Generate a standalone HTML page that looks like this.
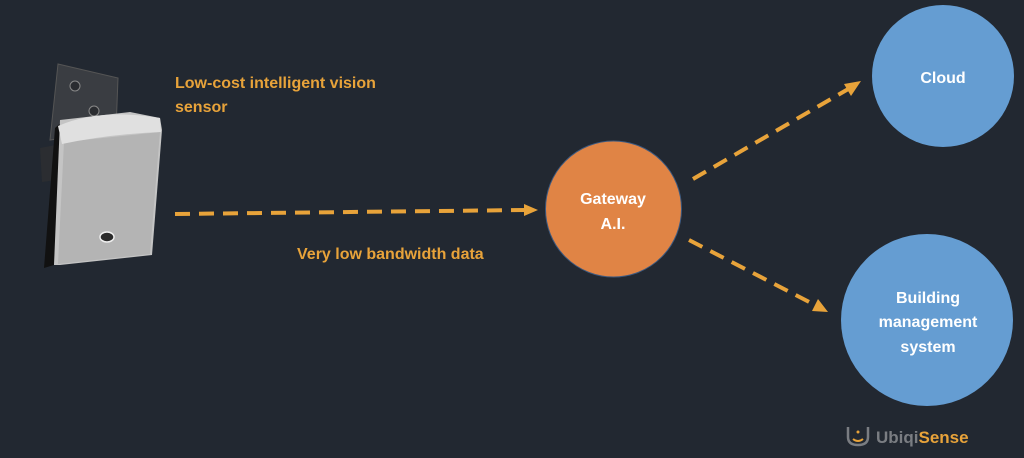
<!DOCTYPE html>
<html><head><style>
html,body{margin:0;padding:0;background:#222831;}
svg{display:block}
text{font-family:"Liberation Sans",sans-serif;font-weight:bold;}
</style></head><body>
<svg width="1024" height="458" viewBox="0 0 1024 458">
<rect width="1024" height="458" fill="#222831"/>
<!-- sensor -->
<polygon points="58,64 118,78 116,130 50,140" fill="#3a3d42" stroke="#555" stroke-width="1"/>
<circle cx="75" cy="86" r="5" fill="#2a2c30" stroke="#888"/>
<circle cx="94" cy="111" r="5" fill="#2a2c30" stroke="#888"/>
<polygon points="40,148 56,145 56,180 42,182" fill="#2b2d31"/>
<polygon points="55,128 64,120 54,265 44,268" fill="#111"/>
<polygon points="60,120 130,112 160,118 162,130 152,255 60,265 54,265" fill="#c4c4c4"/>
<polygon points="64,142 160,132 150,254 58,264" fill="#b4b4b4"/>
<path d="M58,126 Q100,108 160,118 L161,132 Q110,134 62,144 Z" fill="#e0e0e0"/>
<ellipse cx="107" cy="237" rx="7" ry="5" fill="#2a2a2a" stroke="#eee" stroke-width="1.5"/>
<!-- labels -->
<text x="175" y="88" fill="#e8a33a" font-size="16">Low-cost intelligent vision</text>
<text x="175" y="112" fill="#e8a33a" font-size="16">sensor</text>
<text x="297" y="259" fill="#e8a33a" font-size="16">Very low bandwidth data</text>
<!-- arrows -->
<g stroke="#e8a33a" stroke-width="4" stroke-dasharray="15,9" fill="none">
<line x1="175" y1="214" x2="526" y2="210"/>
<line x1="693" y1="179" x2="850" y2="88"/>
<line x1="689" y1="240" x2="817" y2="306"/>
</g>
<g fill="#e8a33a">
<polygon points="538,210 524,204 524,216"/>
<polygon points="861,81 844,84 851,96"/>
<polygon points="828,312 818,299 812,311"/>
</g>
<!-- circles -->
<circle cx="613.5" cy="209" r="68" fill="#e08445" stroke="#3d5a80" stroke-width="1"/>
<circle cx="943" cy="76" r="71" fill="#659dd2"/>
<circle cx="927" cy="320" r="86" fill="#659dd2"/>
<g fill="#fff" font-size="16" text-anchor="middle">
<text x="613" y="204">Gateway</text>
<text x="613" y="229">A.I.</text>
<text x="943" y="83">Cloud</text>
<text x="928" y="303">Building</text>
<text x="928" y="327">management</text>
<text x="928" y="352">system</text>
</g>
<!-- logo -->
<path d="M848,427 L848,437 Q848,445 858,445 Q868,445 868,437 L868,427" stroke="#7a7d82" stroke-width="2.5" fill="none"/>
<path d="M853,439 Q858,443 863,439" stroke="#e8a33a" stroke-width="2" fill="none"/>
<circle cx="858" cy="432" r="1.5" fill="#e8a33a"/>
<text x="876" y="443" font-size="17" fill="#7a7d82">Ubiqi<tspan fill="#e8a33a">Sense</tspan></text>
</svg>
</body></html>
